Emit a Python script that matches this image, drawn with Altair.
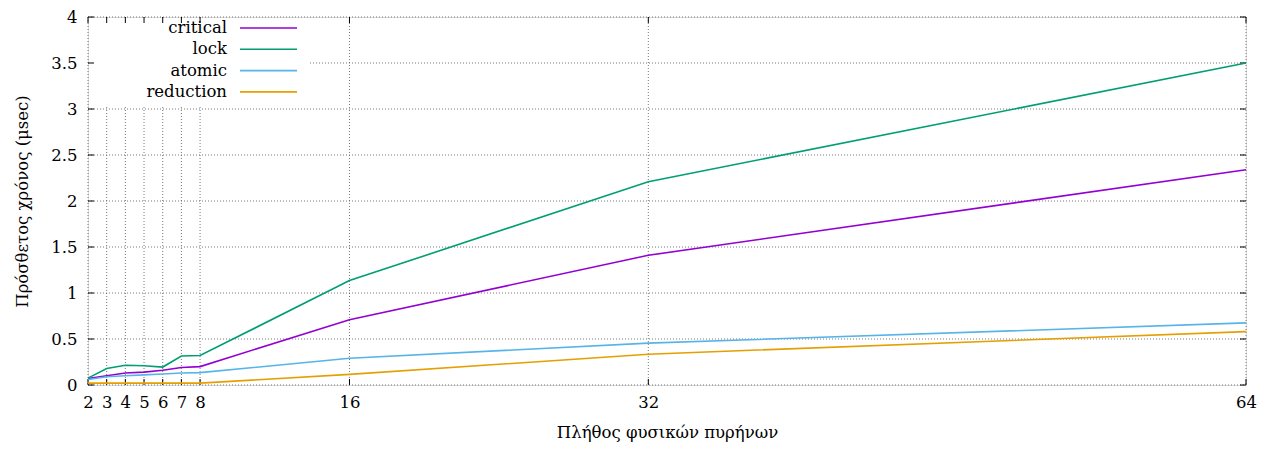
import altair as alt
import pandas as pd

cores = [2, 3, 4, 5, 6, 7, 8, 16, 32, 64]
critical = [0.07, 0.10, 0.13, 0.14, 0.16, 0.19, 0.20, 0.71, 1.41, 2.34]
lock = [0.075, 0.18, 0.215, 0.21, 0.195, 0.315, 0.32, 1.135, 2.21, 3.50]
atomic = [0.06, 0.09, 0.10, 0.11, 0.12, 0.13, 0.135, 0.29, 0.455, 0.675]
reduction = [0.02, 0.02, 0.02, 0.02, 0.02, 0.02, 0.02, 0.115, 0.335, 0.58]
series_names = ["critical", "lock", "atomic", "reduction"]
series_colors = ["#9400d3", "#009e73", "#56b4e9", "#e69f00"]
x_ticks = [2, 3, 4, 5, 6, 7, 8, 16, 32, 64]
y_ticks = [0, 0.5, 1, 1.5, 2, 2.5, 3, 3.5, 4]

W, H = 1158, 368
FONT = "DejaVu Serif"
FS = 16.5

rows = []
for name, vals in zip(series_names, [critical, lock, atomic, reduction]):
    for c, v in zip(cores, vals):
        rows.append({"cores": c, "value": v, "series": name})
df = pd.DataFrame(rows)

xs = alt.Scale(domain=[2, 64], nice=False, zero=False)
ys = alt.Scale(domain=[0, 4], nice=False)

xt = pd.DataFrame({"x": x_ticks})
yt = pd.DataFrame({"y": y_ticks})

grid_style = dict(color="#555555", strokeDash=[1, 2], strokeWidth=0.8)

vgrid = alt.Chart(xt).mark_rule(**grid_style).encode(
    x=alt.X("x:Q", scale=xs, axis=alt.Axis(values=x_ticks, tickSize=0, domain=False,
                                              grid=False, labelPadding=9, labelFlush=False,
                                              title="Πλήθος φυσικών πυρήνων", titlePadding=14)),
    y=alt.value(0), y2=alt.value(H))
hgrid = alt.Chart(yt).mark_rule(**grid_style).encode(
    y=alt.Y("y:Q", scale=ys, axis=alt.Axis(values=y_ticks, format="~g", tickSize=0,
                                              domain=False, grid=False, labelPadding=11,
                                              labelFlush=False,
                                              title="Πρόσθετος χρόνος (μsec)", titlePadding=20)),
    x=alt.value(0), x2=alt.value(W))

legend_bg = alt.Chart(pd.DataFrame({"a": [0]})).mark_rect(color="white").encode(
    x=alt.value(1), x2=alt.value(220), y=alt.value(1), y2=alt.value(89))

tick_style = dict(color="black", strokeWidth=1)
tb = alt.Chart(xt).mark_rule(**tick_style).encode(x=alt.X("x:Q", scale=xs), y=alt.value(H), y2=alt.value(H - 6))
tt = alt.Chart(xt).mark_rule(**tick_style).encode(x=alt.X("x:Q", scale=xs), y=alt.value(0), y2=alt.value(6))
tl = alt.Chart(yt).mark_rule(**tick_style).encode(y=alt.Y("y:Q", scale=ys), x=alt.value(0), x2=alt.value(6))
tr = alt.Chart(yt).mark_rule(**tick_style).encode(y=alt.Y("y:Q", scale=ys), x=alt.value(W), x2=alt.value(W - 6))

lines = alt.Chart(df).mark_line(strokeWidth=1.6).encode(
    x=alt.X("cores:Q", scale=xs),
    y=alt.Y("value:Q", scale=ys),
    color=alt.Color("series:N", scale=alt.Scale(domain=series_names, range=series_colors), legend=None),
    detail="series:N")

legend_layers = []
for i, (name, col) in enumerate(zip(series_names, series_colors)):
    ldf = pd.DataFrame({"series": [name]})
    yy = 11 + 21.3 * i
    legend_layers.append(alt.Chart(ldf).mark_text(align="right", baseline="middle").encode(
        text="series:N", x=alt.value(139), y=alt.value(yy)))
    legend_layers.append(alt.Chart(ldf).mark_rule(color=col, strokeWidth=1.6).encode(
        x=alt.value(152), x2=alt.value(209), y=alt.value(yy)))

chart = alt.layer(vgrid, hgrid, legend_bg, tb, tt, tl, tr, lines, *legend_layers).properties(
    width=W, height=H,
    padding={"left": 80, "top": 9, "right": 13, "bottom": 62},
    autosize=alt.AutoSizeParams(type="none"),
).configure_view(
    stroke="black", strokeWidth=1.2
).configure(font=FONT).configure_axis(
    labelFont=FONT, labelFontSize=FS, labelColor="black",
    titleFont=FONT, titleFontSize=FS, titleFontWeight="normal", titleColor="black"
).configure_text(font=FONT, fontSize=FS, color="black")

chart.save("out.html", embed_options={"renderer": "svg", "actions": False})
